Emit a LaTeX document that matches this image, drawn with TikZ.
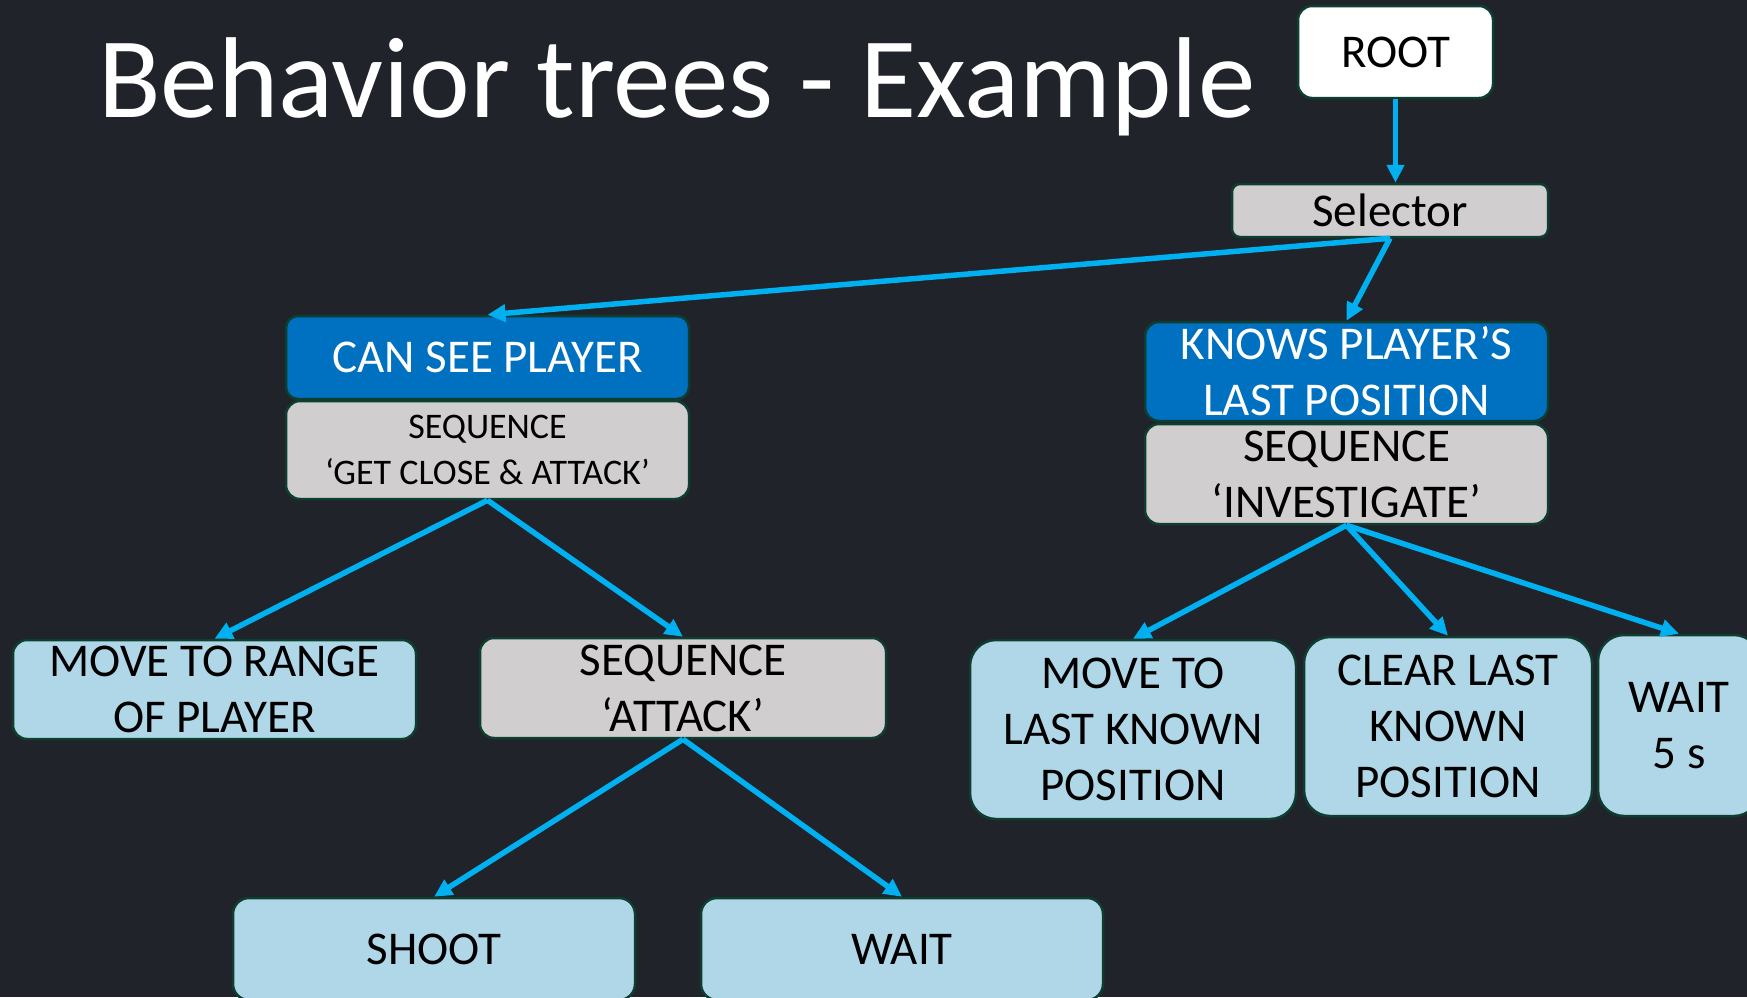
\documentclass[tikz,border=0pt]{standalone}
\usepackage{fontspec}
\setmainfont{Carlito}
\usetikzlibrary{arrows.meta}
\definecolor{bgc}{RGB}{32,35,42}
\definecolor{edgec}{RGB}{14,62,48}
\definecolor{bluec}{RGB}{0,112,192}
\definecolor{grayc}{RGB}{208,206,206}
\definecolor{leafc}{RGB}{176,215,232}
\definecolor{arrc}{RGB}{0,176,240}
\tikzset{
  box/.style={draw=edgec, line width=2.5pt, inner sep=0pt, align=center,
    text=black, font=\fontsize{47}{56}\selectfont},
  bluebox/.style={box, fill=bluec, text=white},
  graybox/.style={box, fill=grayc},
  leafbox/.style={box, fill=leafc},
  arr/.style={draw=arrc, line width=5.5pt, -{Triangle[length=18pt,width=17pt]}}
}
\begin{document}
\begin{tikzpicture}[x=1pt,y=-1pt]
\useasboundingbox (0,0) rectangle (1747,997);
\fill[bgc] (0,0) rectangle (1747,997);
\clip (0,0) rectangle (1747,997);
\node[anchor=base west, inner sep=0pt, text=white, font=\fontsize{115}{138}\selectfont] (title) at (98,117) {Behavior trees - Example};
\node[box, fill=white, minimum width=195pt, minimum height=92pt, rounded corners=14pt] (root) at (1395.5,52) {ROOT};
\node[graybox, minimum width=316pt, minimum height=53pt, rounded corners=8pt] (sel) at (1390,210.5) {Selector};
\node[bluebox, minimum width=403pt, minimum height=83pt, rounded corners=12pt] (can) at (487.5,357.5) {CAN SEE PLAYER};
\node[graybox, minimum width=403pt, minimum height=98pt, rounded corners=14pt, font=\fontsize{36}{46}\selectfont] (gcs) at (487.5,450) {SEQUENCE\\‘GET CLOSE \& ATTACK’};
\node[leafbox, minimum width=403pt, minimum height=99pt, rounded corners=14pt] (mvr) at (214.5,689.5) {MOVE TO RANGE\\OF PLAYER};
\node[graybox, minimum width=406pt, minimum height=100pt, rounded corners=14pt] (att) at (683,688) {SEQUENCE\\‘ATTACK’};
\node[leafbox, minimum width=402pt, minimum height=102pt, rounded corners=16pt] (shoot) at (434,949) {SHOOT};
\node[leafbox, minimum width=402pt, minimum height=102pt, rounded corners=16pt] (wait) at (902,949) {WAIT};
\node[bluebox, minimum width=403pt, minimum height=99pt, rounded corners=14pt] (knows) at (1346.5,371.5) {KNOWS PLAYER’S\\LAST POSITION};
\node[graybox, minimum width=403pt, minimum height=100pt, rounded corners=14pt] (inv) at (1346.5,474) {SEQUENCE\\‘INVESTIGATE’};
\node[leafbox, minimum width=326pt, minimum height=179pt, rounded corners=26pt] (mlk) at (1133,729.5) {MOVE TO\\LAST KNOWN\\POSITION};
\node[leafbox, minimum width=288pt, minimum height=179pt, rounded corners=26pt] (clk) at (1448,726.5) {CLEAR LAST\\KNOWN\\POSITION};
\node[leafbox, minimum width=162pt, minimum height=181pt, rounded corners=26pt] (w5) at (1679,725.5) {WAIT\\5 s};
\draw[arr] (root.south) -- (root.south |- sel.north);
\draw[arr] (sel.south) -- (can.north);
\draw[arr] (sel.south) -- (knows.north);
\draw[arr] (gcs.south) -- (mvr.north);
\draw[arr] (gcs.south) -- (att.north);
\draw[arr] (att.south) -- (shoot.north);
\draw[arr] (att.south) -- (wait.north);
\draw[arr] (inv.south) -- (mlk.north);
\draw[arr] (inv.south) -- (clk.north);
\draw[arr] (inv.south) -- (w5.north);
\end{tikzpicture}
\end{document}
